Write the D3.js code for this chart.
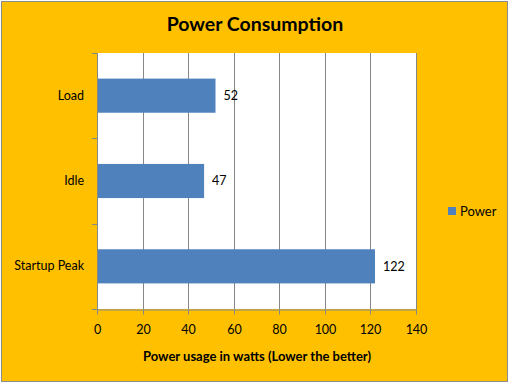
<!DOCTYPE html>
<html><head><meta charset="utf-8">
<script src="https://cdn.jsdelivr.net/npm/d3@7"></script>
<style>body{margin:0;padding:0;background:#fff}svg{display:block}text{font-family:Lato,"Open Sans",sans-serif}</style>
</head><body>
<script>
const categories = ["Load", "Idle", "Startup Peak"];
const values = [52, 47, 122];
const xTicks = [0, 20, 40, 60, 80, 100, 120, 140];
const seriesName = "Power";
const title = "Power Consumption";
const xTitle = "Power usage  in watts (Lower the better)";

const W = 509, H = 383;
const svg = d3.select("body").append("svg").attr("width", W).attr("height", H);
svg.append("rect").attr("x", 1.5).attr("y", 1.5).attr("width", W - 3).attr("height", H - 3)
  .attr("fill", "#FFC000").attr("stroke", "#8c8c8c").attr("stroke-width", 1);

const L = 97, R = 416, T = 53, B = 309;
const x = d3.scaleLinear().domain([0, 140]).range([L, R]);
const y = d3.scaleBand().domain(categories).range([T, B]).paddingInner(0.6).paddingOuter(0.3);

svg.append("rect").attr("x", L).attr("y", T).attr("width", R - L).attr("height", B - T).attr("fill", "#fff");

// gridlines
svg.append("g").selectAll("line").data(xTicks.slice(1)).join("line")
  .attr("x1", d => Math.round(x(d)) + 0.5).attr("x2", d => Math.round(x(d)) + 0.5)
  .attr("y1", T).attr("y2", B).attr("stroke", "#878787");

// bars
svg.append("g").selectAll("rect").data(values).join("rect")
  .attr("x", x(0)).attr("y", (d, i) => y(categories[i]))
  .attr("width", d => x(d) - x(0)).attr("height", y.bandwidth())
  .attr("fill", "#4F81BD");

// value labels
svg.append("g").selectAll("text").data(values).join("text")
  .attr("x", d => x(d) + 8).attr("y", (d, i) => y(categories[i]) + y.bandwidth() / 2)
  .attr("dy", "0.35em").attr("font-size", 12.5).attr("fill", "#000").text(d => d);

// x axis
const xAxis = d3.axisBottom(x).tickValues(xTicks).tickSize(5).tickPadding(11).tickSizeOuter(0);
const gx = svg.append("g").attr("transform", `translate(0,${B + 0.5})`).call(xAxis);
gx.selectAll("line, path").attr("stroke", "#878787");
gx.selectAll("text").attr("font-size", 12.5).attr("fill", "#000").style("font-family", "Lato, 'Open Sans', sans-serif");
gx.selectAll(".tick").attr("transform", d => `translate(${Math.round(x(d)) + 0.5},0)`);

// y axis
const yEdges = [T, T + (B - T) / 3, T + 2 * (B - T) / 3, B];
const gy = svg.append("g");
gy.append("line").attr("x1", L + 0.5).attr("x2", L + 0.5).attr("y1", T).attr("y2", B + 5).attr("stroke", "#878787");
gy.selectAll("line.t").data(yEdges).join("line").attr("class", "t")
  .attr("x1", L - 5).attr("x2", L).attr("y1", d => Math.round(d) + 0.5).attr("y2", d => Math.round(d) + 0.5).attr("stroke", "#878787");
const yAxis = d3.axisLeft(y).tickSize(0).tickPadding(13);
const gy2 = svg.append("g").attr("transform", `translate(${L},0)`).call(yAxis);
gy2.select(".domain").remove();
gy2.selectAll("text").attr("font-size", 12.5).attr("fill", "#000").style("font-family", "Lato, 'Open Sans', sans-serif");

// title
svg.append("text").attr("x", 255).attr("y", 31).attr("text-anchor", "middle")
  .attr("font-size", 19.5).attr("font-weight", "bold").text(title);
svg.append("text").attr("x", 257).attr("y", 361).attr("text-anchor", "middle")
  .attr("font-size", 13).attr("font-weight", "bold").text(xTitle);

// legend
svg.append("rect").attr("x", 448).attr("y", 207).attr("width", 8).attr("height", 8).attr("fill", "#4F81BD");
svg.append("text").attr("x", 460).attr("y", 211).attr("dy", "0.35em").attr("font-size", 13).text(seriesName);
</script>
</body></html>
